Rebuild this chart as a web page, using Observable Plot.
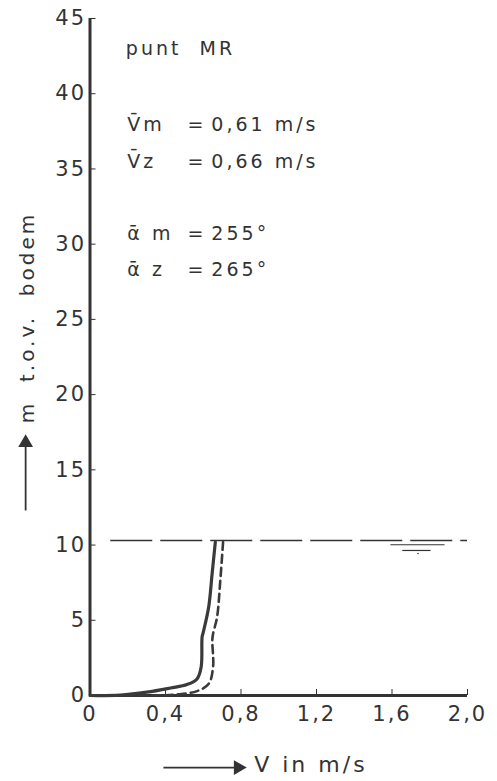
<!DOCTYPE html>
<html><head><meta charset="utf-8">
<script src="https://cdn.jsdelivr.net/npm/d3@7"></script>
<script src="https://cdn.jsdelivr.net/npm/@observablehq/plot@0.6"></script>
<style>
body{margin:0;background:#fff}
g[aria-label="y-axis tick label"] text, g[aria-label="x-axis tick label"] text {letter-spacing:2px}
g[aria-label="text"] text {letter-spacing:3px}
</style>
</head><body><div id="chart"></div>
<script>
// Velocity profiles (V in m/s) vs height above bottom (m)
const solidV = [0, 0.16, 0.30, 0.426, 0.514, 0.567, 0.589, 0.594, 0.600, 0.629, 0.647, 0.664];
const solidH = [0, 0.03, 0.22, 0.50, 0.73, 1.10, 1.90, 3.90, 4.20, 5.90, 8.10, 10.2];
const dashedV = [0.12, 0.30, 0.461, 0.567, 0.629, 0.652, 0.648, 0.652, 0.673, 0.690, 0.705];
const dashedH = [0.00, 0.00, 0.07, 0.29, 0.78, 1.90, 3.70, 4.10, 5.20, 7.60, 10.2];
const waterLevel = 10.3;
const xTicks = [0, 0.4, 0.8, 1.2, 1.6, 2.0];
const yTicks = [0, 5, 10, 15, 20, 25, 30, 35, 40, 45];
const infoLabels = ["V\u0304m", "V\u0304z", "\u1FB1 m", "\u1FB1 z"];
const infoValues = ["0,61 m/s", "0,66 m/s", "255°", "265°"];
const infoY = [37.9, 35.5, 30.7, 28.3];

const solid = solidV.map((v, i) => ({v, h: solidH[i]}));
const dashed = dashedV.map((v, i) => ({v, h: dashedH[i]}));
const info = infoLabels.map((l, i) => ({l, val: infoValues[i], y: infoY[i]}));
const ink = "#333";
const font = "DejaVu Sans";

const chart = Plot.plot({
  width: 497, height: 781,
  marginLeft: 89.5, marginRight: 30, marginTop: 18, marginBottom: 86,
  style: {fontFamily: font, color: ink, background: "#fff"},
  x: {domain: [0, 2], ticks: xTicks},
  y: {domain: [0, 45], ticks: yTicks},
  marks: [
    Plot.axisX({ticks: xTicks, tickSize: -6, tickPadding: 17, fontSize: 21, label: null,
      tickFormat: d => d3.format(".1f")(d).replace(".", ",").replace(/^0,0$/, "0"), stroke: ink}),
    Plot.axisY({ticks: yTicks, tickSize: -6, tickPadding: 10, fontSize: 21, label: null, stroke: ink}),
    Plot.ruleX([0], {y1: 0, y2: 45, stroke: ink, strokeWidth: 3}),
    Plot.ruleY([0], {x1: 0, x2: 2, stroke: ink, strokeWidth: 3}),
    // water surface
    Plot.ruleY([waterLevel], {x1: 0.11, x2: 2.0, stroke: ink, strokeWidth: 1.6, strokeDasharray: "42,8"}),
    Plot.ruleY([10.02], {x1: 1.594, x2: 1.881, stroke: ink, strokeWidth: 1.2}),
    Plot.ruleY([9.64], {x1: 1.657, x2: 1.807, stroke: ink, strokeWidth: 1.2}),
    Plot.dot([{x: 1.738, y: 9.44}], {x: "x", y: "y", r: 0.8, fill: ink}),
    // profiles
    Plot.line(solid, {x: "v", y: "h", stroke: "#3a3a3a", strokeWidth: 3.2, curve: "catmull-rom"}),
    Plot.line(dashed, {x: "v", y: "h", stroke: "#3a3a3a", strokeWidth: 2.6, strokeDasharray: "8,5", curve: "catmull-rom"}),
    // annotations
    Plot.text(["punt  MR"], {x: 0.19, y: 43.0, textAnchor: "start", fontSize: 19, fill: ink}),
    Plot.text(info, {x: 0.198, y: "y", text: "l", textAnchor: "start", fontSize: 19, fill: ink}),
    Plot.text(info, {x: 0.516, y: "y", text: () => "=", textAnchor: "start", fontSize: 19, fill: ink}),
    Plot.text(info, {x: 0.643, y: "y", text: "val", textAnchor: "start", fontSize: 19, fill: ink}),
    // axis titles
    Plot.link([{x1: 0.389, x2: 0.785, y: -4.79}], {x1: "x1", x2: "x2", y1: "y", y2: "y", stroke: ink, strokeWidth: 1.8}),
    Plot.dot([{x: 0.785, y: -4.79}], {x: "x", y: "y", symbol: "triangle", rotate: 90, r: 5.5, fill: ink, stroke: "none"}),
    Plot.text(["V in m/s"], {x: 0.87, y: -4.6, textAnchor: "start", fontSize: 22, fill: ink}),
    Plot.link([{x: -0.341, y1: 12.3, y2: 16.8}], {x1: "x", x2: "x", y1: "y1", y2: "y2", stroke: ink, strokeWidth: 1.8}),
    Plot.dot([{x: -0.341, y: 16.8}], {x: "x", y: "y", symbol: "triangle", r: 5.5, fill: ink, stroke: "none"}),
    Plot.text(["m  t.o.v.  bodem"], {x: -0.331, y: 18.1, rotate: -90, textAnchor: "start", fontSize: 20, fill: ink})
  ]
});
document.getElementById("chart").append(chart);
</script>
</body></html>
